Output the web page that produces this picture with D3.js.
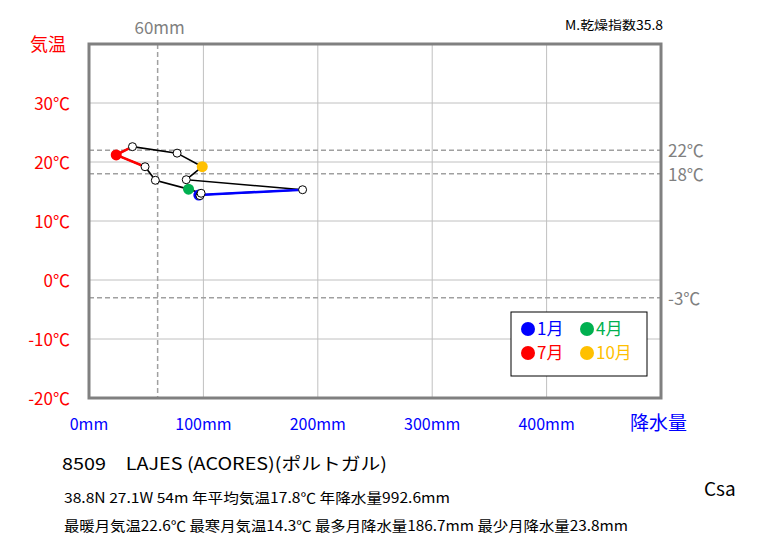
<!DOCTYPE html>
<html><head><meta charset="utf-8">
<script src="https://cdn.jsdelivr.net/npm/d3@7"></script>
<style>body{margin:0;background:#fff}svg{display:block}</style>
</head><body>
<script>
const months = ["1月","2月","3月","4月","5月","6月","7月","8月","9月","10月","11月","12月"];
const precip = [96, 97, 98, 87, 58, 49, 23.8, 38, 77, 99, 85, 186.7];
const temp = [14.4, 14.3, 14.7, 15.4, 16.9, 19.2, 21.2, 22.6, 21.5, 19.2, 17.0, 15.3];
const xTicks = [0, 100, 200, 300, 400];
const yTicks = [30, 20, 10, 0, -10, -20];
const refTemps = [22, 18, -3];
const refPrecip = 60;
const highlight = [{m:0,color:"#0000ff",label:"1月"},{m:3,color:"#00b050",label:"4月"},{m:6,color:"#ff0000",label:"7月"},{m:9,color:"#ffc000",label:"10月"}];

const W=763,H=545;
const svg=d3.select("body").append("svg").attr("width",W).attr("height",H);
const x=d3.scaleLinear().domain([0,500]).range([89,661]);
const y=d3.scaleLinear().domain([-20,40]).range([398,44]);
const font="'Noto Sans CJK JP','Noto Sans',sans-serif";

// grid
svg.selectAll(".gx").data(xTicks.slice(1)).enter().append("line")
 .attr("x1",d=>x(d)).attr("x2",d=>x(d)).attr("y1",44).attr("y2",398).attr("stroke","#c0c0c0").attr("stroke-width",1);
svg.selectAll(".gy").data(yTicks.slice(0,-1)).enter().append("line")
 .attr("x1",89).attr("x2",661).attr("y1",d=>y(d)).attr("y2",d=>y(d)).attr("stroke","#c0c0c0").attr("stroke-width",1);
// reference dashed
svg.selectAll(".rt").data(refTemps).enter().append("line")
 .attr("x1",89).attr("x2",661).attr("y1",d=>y(d)).attr("y2",d=>y(d))
 .attr("stroke","#a0a0a0").attr("stroke-width",1.5).attr("stroke-dasharray","5,3");
svg.selectAll(".rtl").data(refTemps).enter().append("text")
 .attr("x",668).attr("y",d=>y(d)+7).attr("font-family",font).attr("font-size",17).attr("fill","#808080")
 .text(d=>d+"℃");
svg.append("line").attr("x1",x(refPrecip)).attr("x2",x(refPrecip)).attr("y1",44).attr("y2",398)
 .attr("stroke","#a0a0a0").attr("stroke-width",1.5).attr("stroke-dasharray","5,3");
svg.append("text").attr("x",x(refPrecip)+2).attr("y",34).attr("text-anchor","middle")
 .attr("font-family",font).attr("font-size",17).attr("fill","#808080").text(refPrecip+"mm");
// frame
svg.append("rect").attr("x",89).attr("y",44).attr("width",572).attr("height",354)
 .attr("fill","none").attr("stroke","#808080").attr("stroke-width",3);

// axis labels
svg.selectAll(".yl").data(yTicks).enter().append("text")
 .attr("x",70).attr("y",d=>y(d)+7).attr("text-anchor","end").attr("font-family",font).attr("font-size",17).attr("fill","#ff0000")
 .text(d=>d+"℃");
svg.append("text").attr("x",30).attr("y",51).attr("font-family",font).attr("font-size",18).attr("fill","#ff0000").text("気温");
svg.selectAll(".xl").data(xTicks).enter().append("text")
 .attr("x",d=>x(d)).attr("y",430).attr("text-anchor","middle").attr("font-family",font).attr("font-size",16).attr("fill","#0000ff")
 .text(d=>d+"mm");
svg.append("text").attr("x",630).attr("y",430).attr("font-family",font).attr("font-size",19).attr("fill","#0000ff").text("降水量");
svg.append("text").attr("x",565).attr("y",30).attr("font-family",font).attr("font-size",12.5).attr("fill","#000")
 .attr("textLength",98).attr("lengthAdjust","spacingAndGlyphs").text("M.乾燥指数35.8");

// climograph line
const pts=months.map((m,i)=>({m:i,p:precip[i],t:temp[i]}));
const loop=pts.concat([pts[0]]);
const line=d3.line().x(d=>x(d.p)).y(d=>y(d.t));
svg.append("path").attr("d",line(loop)).attr("fill","none").attr("stroke","#000").attr("stroke-width",1.6);
const segs=[[11,0,"#0000ff"],[0,1,"#0000ff"],[5,6,"#ff0000"],[6,7,"#ff0000"]];
segs.forEach(s=>{
 svg.append("path").attr("d",line([pts[s[0]],pts[s[1]]])).attr("fill","none").attr("stroke",s[2]).attr("stroke-width",2.5);
});
highlight.forEach(h=>{
 svg.append("circle").attr("cx",x(precip[h.m])).attr("cy",y(temp[h.m])).attr("r",5.5).attr("fill",h.color);
});
svg.selectAll(".pt").data(pts.filter(d=>!highlight.some(h=>h.m===d.m))).enter().append("circle")
 .attr("cx",d=>x(d.p)).attr("cy",d=>y(d.t)).attr("r",4).attr("fill","#fff").attr("stroke","#000").attr("stroke-width",1);

// legend
svg.append("rect").attr("x",511).attr("y",312).attr("width",136).attr("height",64).attr("fill","#fff").attr("stroke","#000").attr("stroke-width",1);
highlight.forEach((h,i)=>{
 const lx=528+(i%2)*59, ly=329+Math.floor(i/2)*24;
 svg.append("circle").attr("cx",lx).attr("cy",ly).attr("r",7).attr("fill",h.color);
 svg.append("text").attr("x",lx+9).attr("y",ly+6).attr("font-family",font).attr("font-size",17).attr("fill",h.color).text(h.label);
});

// info text
svg.append("text").attr("x",62).attr("y",470).attr("font-family",font).attr("font-size",17).attr("fill","#000")
 .attr("textLength",325).attr("lengthAdjust","spacingAndGlyphs").text("8509　LAJES (ACORES)(ポルトガル)");
svg.append("text").attr("x",64).attr("y",503).attr("font-family",font).attr("font-size",14).attr("fill","#000")
 .attr("textLength",386).attr("lengthAdjust","spacingAndGlyphs").text("38.8N  27.1W 54m  年平均気温17.8℃ 年降水量992.6mm");
svg.append("text").attr("x",64).attr("y",531).attr("font-family",font).attr("font-size",14).attr("fill","#000")
 .attr("textLength",564).attr("lengthAdjust","spacingAndGlyphs").text("最暖月気温22.6℃ 最寒月気温14.3℃ 最多月降水量186.7mm 最少月降水量23.8mm");
svg.append("text").attr("x",704).attr("y",496).attr("font-family",font).attr("font-size",19).attr("fill","#000").text("Csa");
</script>
</body></html>
